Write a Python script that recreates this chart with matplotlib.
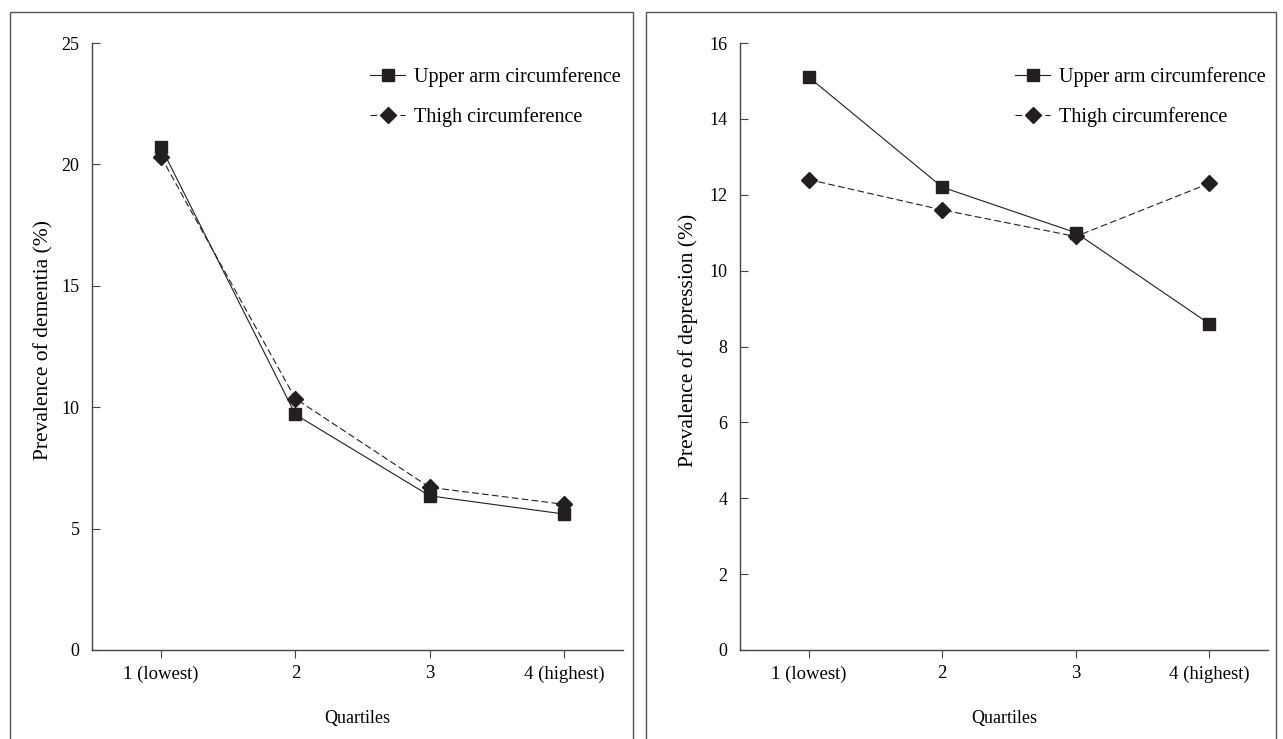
import matplotlib.pyplot as plt
from matplotlib.patches import Rectangle

quartiles = [1, 2, 3, 4]
quartile_labels = ["1 (lowest)", "2", "3", "4 (highest)"]

dementia_arm = [20.7, 9.7, 6.35, 5.6]
dementia_thigh = [20.3, 10.35, 6.7, 6.0]

depression_arm = [15.1, 12.2, 11.0, 8.6]
depression_thigh = [12.4, 11.6, 10.9, 12.3]

plt.rcParams['font.family'] = ['Liberation Serif', 'DejaVu Serif']
ink = "#231f20"

fig = plt.figure(figsize=(12.83, 7.39), dpi=100)

# panel frames
for x0, x1 in [(10, 633), (646, 1276)]:
    fig.patches.append(Rectangle((x0 / 1283, -0.05), (x1 - x0) / 1283, 1.05 - 12 / 739,
                                 transform=fig.transFigure, fill=False,
                                 edgecolor="#555555", linewidth=1.0))

def panel(rect, arm, thigh, ymax, yticks, ylabel, leg_x, lab_y):
    ax = fig.add_axes(rect)
    ax.plot(quartiles, arm, color=ink, linestyle="-", linewidth=0.8,
            marker="s", markersize=8.5, label="Upper arm circumference")
    ax.plot(quartiles, thigh, color=ink, linestyle=(0, (6, 3)), linewidth=0.8,
            marker="D", markersize=8, label="Thigh circumference")
    ax.set_xlim(0.485, 4.44)
    ax.set_ylim(0, ymax)
    ax.set_xticks(quartiles)
    ax.set_xticklabels(quartile_labels)
    ax.set_yticks(yticks)
    for s in ["top", "right"]:
        ax.spines[s].set_visible(False)
    for s in ["left", "bottom"]:
        ax.spines[s].set_color("#444444")
        ax.spines[s].set_linewidth(1.0)
    ax.tick_params(axis="y", direction="in", length=6, pad=9, labelsize=13, color="#444444")
    ax.tick_params(axis="x", direction="out", length=6, pad=5, labelsize=13.5, color="#444444")
    ax.set_xlabel("Quartiles", fontsize=13, labelpad=20)
    ax.set_ylabel(ylabel, fontsize=15.5)
    ax.yaxis.set_label_coords(lab_y, 0.51)
    ax.legend(loc="upper left", bbox_to_anchor=(leg_x, 0.96), frameon=False,
              fontsize=14.5, labelspacing=1.0, handlelength=1.75, handletextpad=0.45,
              borderpad=0, borderaxespad=0)
    return ax

panel([92 / 1283, 1 - 650 / 739, (623 - 92) / 1283, (650 - 43) / 739],
      dementia_arm, dementia_thigh, 25, [0, 5, 10, 15, 20, 25],
      "Prevalence of dementia (%)", (370 - 92) / 531, -0.073)
panel([740 / 1283, 1 - 650 / 739, (1268 - 740) / 1283, (650 - 43) / 739],
      depression_arm, depression_thigh, 16, [0, 2, 4, 6, 8, 10, 12, 14, 16],
      "Prevalence of depression (%)", (1015 - 740) / 528, -0.079)

fig.savefig("out.png", dpi=100)
